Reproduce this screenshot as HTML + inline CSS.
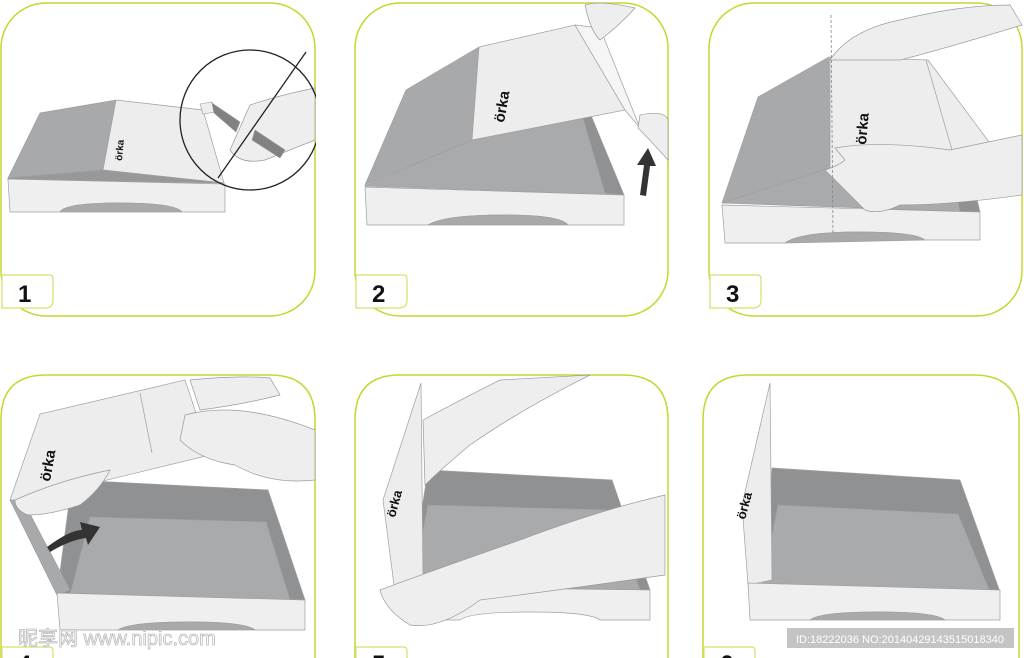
<!DOCTYPE html>
<html><head><meta charset="utf-8"><style>
html,body{margin:0;padding:0;background:#fff;width:1024px;height:658px;overflow:hidden}
svg{display:block;overflow:hidden}
text{font-family:"Liberation Sans",sans-serif}
</style></head><body>
<svg width="1024" height="658" viewBox="0 0 1024 658" xmlns="http://www.w3.org/2000/svg">
<defs>
<clipPath id="c1"><rect x="0" y="0" width="316" height="320"/></clipPath>
</defs>
<g fill="none" stroke="#c8d630" stroke-width="1.5">
<rect x="1" y="3" width="314" height="313" rx="45"/>
<rect x="355" y="3" width="313" height="313" rx="45"/>
<rect x="709" y="3" width="313" height="313" rx="45"/>
<path d="M1,658 V420 Q1,375 46,375 H270 Q315,375 315,420 V658"/>
<path d="M355,658 V420 Q355,375 400,375 H623 Q668,375 668,420 V658"/>
<path d="M703,658 V420 Q703,375 748,375 H974 Q1019,375 1019,420 V658"/>
</g>
<g fill="#fff" stroke="#d6e06a" stroke-width="1.2">
<path d="M2 275 H50 Q53 275 53 280 V300 Q53 308 45 308 H2 Z"/>
<path d="M356 275 H404 Q407 275 407 280 V300 Q407 308 399 308 H356 Z"/>
<path d="M710 275 H758 Q761 275 761 280 V300 Q761 308 753 308 H710 Z"/>
<path d="M2 658 V647 H50 Q53 647 53 652 V658"/>
<path d="M356 658 V647 H404 Q407 647 407 652 V658"/>
<path d="M704 658 V647 H752 Q755 647 755 652 V658"/>
</g>
<g font-size="24" font-weight="bold" fill="#111">
<text x="18" y="302">1</text><text x="372" y="302">2</text><text x="726" y="302">3</text>
</g>
<g font-size="24" font-weight="bold" fill="#111">
<text x="18" y="672" clip-path="none">4</text><text x="372" y="672">5</text><text x="720" y="672">6</text>
</g>

<g stroke="#a0a0a2" stroke-width="0.7">
<polygon points="8,178 40,113 116,100 103,170" fill="#a8a9ab"/>
<polygon points="116,100 203,110 224,183 103,170" fill="#ededee"/>
<polygon points="8,178 103,170 224,183 8,180" fill="#97989a"/>
<path d="M8,179 L225,184 V212 H182 Q175,203 120,203 Q65,203 60,212 H10 Z" fill="#efeff0"/>
<path d="M60,212 Q65,203 120,203 Q175,203 182,212 Z" fill="#a8a9ab"/>
<polygon points="365,185 406,90 479,47 472,140" fill="#a8a9ab"/>
<polygon points="472,140 582,115 622,195 365,186" fill="#a9aaac"/>
<polygon points="582,115 590,113 624,195 605,193" fill="#909193"/>
<polygon points="479,47 575,25 625,110 472,140" fill="#ededee"/>
<polygon points="575,25 600,28 640,128 625,110" fill="#f5f5f5"/>
<path d="M365,187 L624,195 V225 H568 Q560,215 505,215 Q445,215 428,225 H367 Z" fill="#efeff0"/>
<path d="M428,225 Q445,215 505,215 Q560,215 568,225 Z" fill="#a8a9ab"/>
<polygon points="722,203 758,97 829,57 830,168" fill="#a8a9ab"/>
<polygon points="722,203 830,168 880,200 975,190 980,212" fill="#a9aaac"/>
<polygon points="955,188 972,187 980,212 960,212" fill="#909193"/>
<polygon points="830,57 928,60 995,150 830,168" fill="#ededee"/>
<line x1="926" y1="60" x2="952" y2="150"/>
<path d="M722,205 L980,212 V240 H925 Q915,232 860,232 Q800,232 785,243 H725 Z" fill="#efeff0"/>
<path d="M785,243 Q800,232 860,232 Q915,232 925,240 Z" fill="#a8a9ab"/>
<polygon points="72,480 268,490 305,600 57,595" fill="#909193"/>
<polygon points="90,517 266,522 290,600 70,595" fill="#a9aaac"/>
<polygon points="10,500 20,495 70,590 57,595" fill="#a8a9ab"/>
<polygon points="10,500 40,414 185,380 210,455 25,500" fill="#ededee"/>
<line x1="140" y1="393" x2="152" y2="453"/>
<path d="M57,593 L305,600 V630 H255 Q245,622 190,622 Q130,622 118,630 H60 Z" fill="#efeff0"/>
<path d="M118,630 Q130,622 190,622 Q245,622 255,630 Z" fill="#a8a9ab"/>
<polygon points="428,470 612,480 650,590 410,585" fill="#909193"/>
<polygon points="428,505 610,510 640,590 412,585" fill="#a9aaac"/>
<polygon points="383,500 421,383 423,580 394,585" fill="#ededee"/>
<path d="M405,587 L650,590 V620 H600 Q590,612 530,612 Q470,612 460,620 H407 Z" fill="#efeff0"/>
<polygon points="772,468 960,480 1000,592 762,585" fill="#909193"/>
<polygon points="778,505 958,514 990,592 762,585" fill="#a9aaac"/>
<polygon points="742,505 770,383 772,580 748,585" fill="#ededee"/>
<path d="M748,583 L1000,590 V620 H945 Q935,612 880,612 Q820,612 810,620 H750 Z" fill="#efeff0"/>
<path d="M810,620 Q820,612 880,612 Q935,612 945,620 Z" fill="#a8a9ab"/>
</g>

<g fill="#eeeeef" stroke="#9a9a9c" stroke-width="0.7">
<path d="M250,105 Q280,95 315,88 V140 Q290,150 265,160 Q240,165 230,150 Z" clip-path="url(#c1)"/>
<path d="M585,5 Q600,0 635,8 Q620,25 600,40 Q590,30 585,5 Z"/>
<path d="M640,115 Q665,110 668,120 V160 Q650,140 638,128 Z"/>
<path d="M830,60 Q850,30 900,20 Q960,5 1010,5 L1022,25 Q940,50 900,60 Z"/>
<path d="M835,148 Q880,140 950,150 L1022,135 V195 Q950,205 900,205 Q880,215 865,210 Q840,185 825,170 Q840,165 845,160 Z"/>
<path d="M185,415 Q240,400 315,430 V480 Q270,485 235,465 Q200,460 180,440 Z"/>
<path d="M190,380 Q240,375 270,378 L280,395 Q240,405 200,410 Z"/>
<path d="M15,500 Q60,480 110,470 Q100,490 80,505 Q50,515 28,515 Q15,510 15,500 Z"/>
<path d="M423,420 Q460,400 500,380 L590,375 Q520,410 470,445 Q440,470 425,485 Z"/>
<path d="M380,590 Q420,575 520,540 Q600,510 665,495 V575 Q560,590 480,600 Q440,630 410,625 Q385,610 380,590 Z"/>
</g>
<g clip-path="url(#c1)" fill="none" stroke="#222" stroke-width="1.3">
<circle cx="250" cy="120" r="70"/>
<line x1="306" y1="52" x2="218" y2="178"/>
</g>
<g stroke="#9a9a9c" stroke-width="0.6">
<polygon points="200,104 212,102 215,112 203,114" fill="#eee"/>
<polygon points="212,103 240,122 236,132 214,113" fill="#808183"/>
<polygon points="255,130 285,150 280,158 252,140" fill="#808183"/>
</g>
<path d="M640,195 L644,165 L637,165 L648,148 L656,166 L650,166 L646,196 Z" fill="#333"/>
<path d="M47,547 Q70,530 82,530 L80,522 L100,527 L88,545 L86,538 Q70,540 50,552 Z" fill="#333"/>
<g font-weight="bold" font-size="15" fill="#111">
<text transform="translate(504,123) rotate(-80)">örka</text>
<text transform="translate(122,161) rotate(-85)" font-size="10">örka</text>
<text transform="translate(866,145) rotate(-85)">örka</text>
<text transform="translate(50,482) rotate(-80)">örka</text>
<text transform="translate(395,518) rotate(-75)" font-size="13">örka</text>
<text transform="translate(745,520) rotate(-75)" font-size="13">örka</text>
</g>
<line x1="831" y1="15" x2="833" y2="235" stroke="#888" stroke-width="0.8" stroke-dasharray="3,2"/>
<rect x="787" y="628" width="227" height="20" fill="#c4c4c4"/>
<text x="796" y="643" font-size="11" fill="#fff">ID:18222036 NO:20140429143515018340</text>
<text x="18" y="645" font-size="20" fill="#fff" stroke="#bbb" stroke-width="0.8" font-family="'Liberation Sans','Noto Sans CJK SC',sans-serif">昵享网 www.nipic.com</text>
</svg>
</body></html>
